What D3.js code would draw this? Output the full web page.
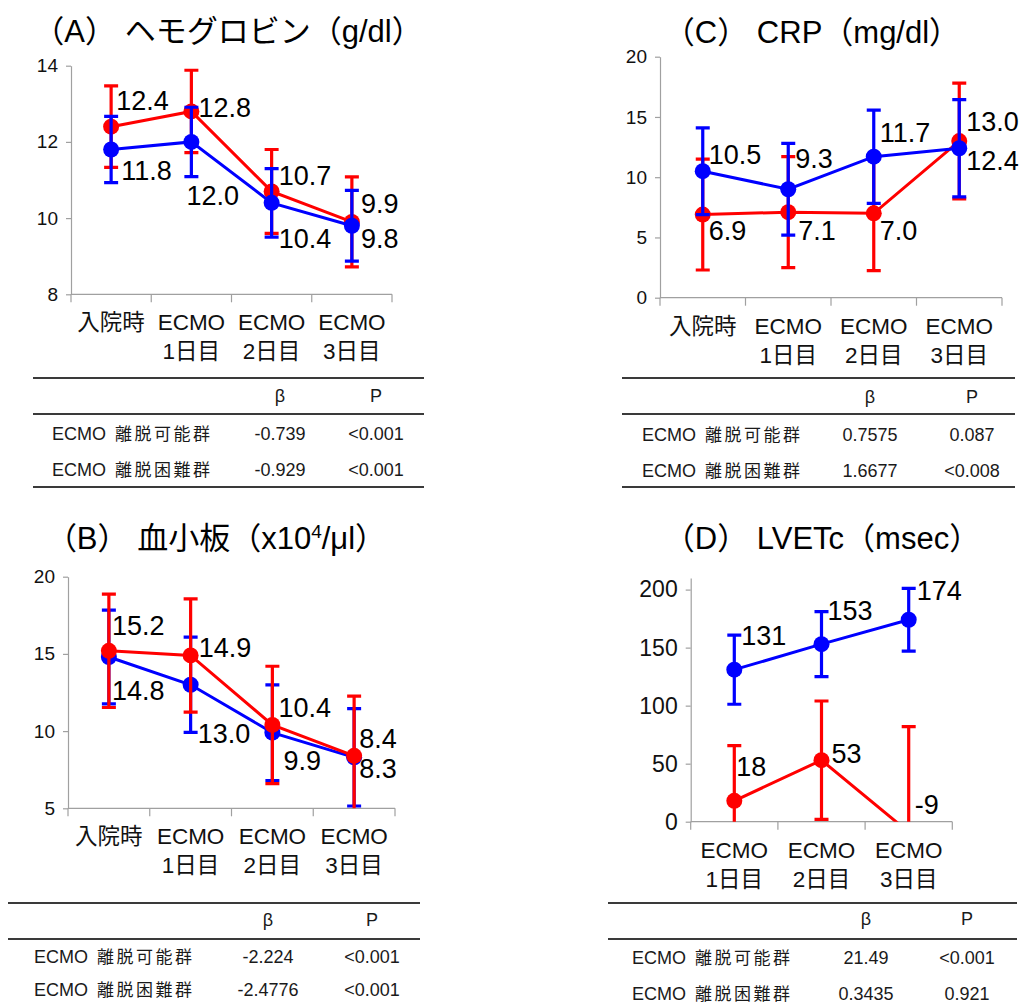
<!DOCTYPE html>
<html>
<head>
<meta charset="utf-8">
<script src="https://cdn.jsdelivr.net/npm/d3@7"></script>
<style>
  body { margin: 0; background: #fff; }
  svg { display: block; }
</style>
</head>
<body>
<svg id="chart" width="1024" height="1008"></svg>
<script>
// ---- data ----
var catsABC = [["入院時"], ["ECMO", "1日目"], ["ECMO", "2日目"], ["ECMO", "3日目"]];
var catsD = [["ECMO", "1日目"], ["ECMO", "2日目"], ["ECMO", "3日目"]];

// (A) hemoglobin
var hbRed = [12.4, 12.8, 10.7, 9.9];
var hbRedErr = [1.07, 1.08, 1.1, 1.18];
var hbBlue = [11.8, 12.0, 10.4, 9.8];
var hbBlueErr = [0.87, 0.91, 0.9, 0.93];
var hbTicks = [8, 10, 12, 14];

// (B) platelets
var pltRed = [15.2, 14.9, 10.4, 8.4];
var pltRedErr = [3.67, 3.67, 3.8, 3.87];
var pltBlue = [14.8, 13.0, 9.9, 8.3];
var pltBlueErr = [3.04, 3.08, 3.1, 3.15];
var pltTicks = [5, 10, 15, 20];

// (C) CRP
var crpRed = [6.9, 7.1, 7.0, 13.0];
var crpRedErr = [4.6, 4.6, 4.76, 4.8];
var crpBlue = [10.5, 9.0, 11.7, 12.4];
var crpBlueErr = [3.6, 3.8, 3.87, 4.03];
var crpBlueLabels = ["10.5", "9.3", "11.7", "12.4"];
var crpTicks = [0, 5, 10, 15, 20];

// (D) LVETc
var lvRed = [18, 53, -9];
var lvRedErr = [47.6, 51, 91];
var lvBlue = [131, 153, 174];
var lvBlueErr = [29.8, 28, 27];
var lvTicks = [0, 50, 100, 150, 200];

// regression tables
var tableGroups = ["離脱可能群", "離脱困難群"];
var betaA = ["-0.739", "-0.929"], pA = ["<0.001", "<0.001"];
var betaB = ["-2.224", "-2.4776"], pB = ["<0.001", "<0.001"];
var betaC = ["0.7575", "1.6677"], pC = ["0.087", "<0.008"];
var betaD = ["21.49", "0.3435"], pD = ["<0.001", "0.921"];

// ---- drawing ----
var RED = "#ff0000", BLUE = "#0000ff";
var LATIN = "'Liberation Sans', Arial, 'Noto Sans CJK JP', sans-serif";

var svg = d3.select("#chart");

// plain hyphen minus like the original, not U+2212
function fmt1(v) { return v.toFixed(1); }
function fmt0(v) { return String(v); }

function drawPanel(p) {
  var g = svg.append("g").attr("class", "panel-" + p.id);

  var x = d3.scaleBand().domain(d3.range(p.cats.length)).range(p.xr).padding(0);
  var y = d3.scaleLinear().domain(p.domain).range(p.yr);

  // title
  var t = g.append("text")
    .attr("x", p.titleX).attr("y", p.titleY)
    .attr("text-anchor", "middle")
    .style("font-family", LATIN).style("font-size", "31px").style("fill", "#000");
  p.title.forEach(function(part) {
    var ts = t.append("tspan").text(part.text);
    if (part.sup) ts.attr("dy", -11).style("font-size", "19px");
    if (part.after) ts.attr("dy", 11);
  });

  // y axis
  var yAxis = d3.axisLeft(y).tickValues(p.ticks).tickFormat(fmt0)
    .tickSize(5).tickSizeOuter(0).tickPadding(8);
  var ya = g.append("g").attr("transform", "translate(" + p.xr[0] + ",0)").call(yAxis);
  ya.select(".domain").attr("stroke", "#a0a0a0").attr("stroke-width", 1.2);
  ya.selectAll(".tick line").attr("stroke", "#a0a0a0").attr("stroke-width", 1.2);
  ya.selectAll(".tick text").style("font-family", LATIN).style("font-size", p.tickFont + "px").style("fill", "#111");

  // x axis: baseline + boundary ticks
  var y0 = p.yr[0];
  var xa = g.append("g");
  xa.append("line").attr("x1", p.xr[0]).attr("x2", p.xr[1]).attr("y1", y0).attr("y2", y0)
    .attr("stroke", "#a0a0a0").attr("stroke-width", 1.2);
  var bounds = x.domain().map(function(d) { return x(d); }).concat([p.xr[1]]);
  xa.selectAll("line.tk").data(bounds).enter().append("line").attr("class", "tk")
    .attr("x1", function(d) { return d; }).attr("x2", function(d) { return d; })
    .attr("y1", y0).attr("y2", y0 + 8)
    .attr("stroke", "#a0a0a0").attr("stroke-width", 1.2);
  var cl = xa.selectAll("text.cat").data(p.cats).enter().append("text").attr("class", "cat")
    .attr("text-anchor", "middle")
    .style("font-family", LATIN).style("font-size", "22.5px").style("fill", "#111");
  cl.each(function(lines, i) {
    var el = d3.select(this);
    lines.forEach(function(s, k) {
      el.append("tspan").attr("x", x(i) + x.bandwidth() / 2).attr("y", y0 + 36 + k * 29).text(s);
    });
  });

  // clip to plot area
  var clipId = "clip-" + p.id;
  g.append("clipPath").attr("id", clipId).append("rect")
    .attr("x", p.xr[0]).attr("y", p.yr[1] - 30)
    .attr("width", p.xr[1] - p.xr[0]).attr("height", p.yr[0] - p.yr[1] + 30);
  var plot = g.append("g").attr("clip-path", "url(#" + clipId + ")");
  var labels = g.append("g");

  var cx = function(i) { return x(i) + x.bandwidth() / 2; };
  var line = d3.line().x(function(d, i) { return cx(i); }).y(function(d) { return y(d); });

  p.series.forEach(function(s) {
    var sg = plot.append("g");
    sg.append("path").datum(s.values).attr("d", line)
      .attr("fill", "none").attr("stroke", s.color).attr("stroke-width", 3);

    var eb = sg.selectAll("g.err").data(s.values).enter().append("g").attr("class", "err");
    eb.append("line")
      .attr("x1", function(d, i) { return cx(i); }).attr("x2", function(d, i) { return cx(i); })
      .attr("y1", function(d, i) { return y(d + s.errs[i]); })
      .attr("y2", function(d, i) { return y(d - s.errs[i]); })
      .attr("stroke", s.color).attr("stroke-width", 3.2);
    [1, -1].forEach(function(sign) {
      eb.append("line")
        .attr("x1", function(d, i) { return cx(i) - 7; }).attr("x2", function(d, i) { return cx(i) + 7; })
        .attr("y1", function(d, i) { return y(d + sign * s.errs[i]); })
        .attr("y2", function(d, i) { return y(d + sign * s.errs[i]); })
        .attr("stroke", s.color).attr("stroke-width", 3.2);
    });

    sg.selectAll("circle").data(s.values).enter().append("circle")
      .attr("cx", function(d, i) { return cx(i); })
      .attr("cy", function(d) { return y(d); })
      .attr("r", 8).attr("fill", s.color);
  });

  p.series.forEach(function(s) {
    labels.selectAll(null).data(s.values).enter().append("text")
      .attr("x", function(d, i) { return cx(i) + s.offs[i][0]; })
      .attr("y", function(d, i) { return y(d) + s.offs[i][1]; })
      .style("font-family", LATIN).style("font-size", "27px").style("fill", "#000")
      .text(function(d, i) { return s.labels ? s.labels[i] : s.fmt(d); });
  });
}

function drawTable(tb) {
  var g = svg.append("g");
  tb.lines.forEach(function(ly) {
    g.append("line").attr("x1", tb.x0).attr("x2", tb.x1).attr("y1", ly).attr("y2", ly)
      .attr("stroke", "#3a3a3a").attr("stroke-width", 2);
  });
  var font = function(sel) {
    return sel.style("font-family", LATIN).style("font-size", "18px").style("fill", "#1a1a1a");
  };
  font(g.append("text").attr("x", tb.colB).attr("y", tb.headY).attr("text-anchor", "middle").text("β"));
  font(g.append("text").attr("x", tb.colP).attr("y", tb.headY).attr("text-anchor", "middle").text("P"));
  tableGroups.forEach(function(name, i) {
    var t = font(g.append("text").attr("x", tb.labelX).attr("y", tb.rowY[i]));
    t.append("tspan").text("ECMO");
    t.append("tspan").attr("dx", 9).style("font-family", "'Noto Sans CJK JP', sans-serif")
      .style("font-size", "17px").style("letter-spacing", "2.5px").text(name);
    font(g.append("text").attr("x", tb.colB).attr("y", tb.rowY[i]).attr("text-anchor", "middle").text(tb.beta[i]));
    font(g.append("text").attr("x", tb.colP).attr("y", tb.rowY[i]).attr("text-anchor", "middle").text(tb.p[i]));
  });
}

var panels = [
  {
    id: "A", cats: catsABC, xr: [71, 392], yr: [294.3, 65.7], domain: [8, 14], ticks: hbTicks, tickFont: 19,
    titleX: 228, titleY: 42,
    title: [{ text: "（A） ヘモグロビン（g/dl）" }],
    series: [
      { color: RED, values: hbRed, errs: hbRedErr, fmt: fmt1, offs: [[5, -17], [7, 6], [7, -6], [9, -9]] },
      { color: BLUE, values: hbBlue, errs: hbBlueErr, fmt: fmt1, offs: [[10, 30], [-5, 63], [7, 45], [9, 22]] }
    ]
  },
  {
    id: "B", cats: catsABC, xr: [68, 395], yr: [808.3, 576.7], domain: [5, 20], ticks: pltTicks, tickFont: 19,
    titleX: 216, titleY: 549,
    title: [{ text: "（B） 血小板（x10" }, { text: "4", sup: true }, { text: "/μl）", after: true }],
    series: [
      { color: BLUE, values: pltBlue, errs: pltBlueErr, fmt: fmt1, offs: [[3, 43], [7, 58], [11, 37], [5, 21]] },
      { color: RED, values: pltRed, errs: pltRedErr, fmt: fmt1, offs: [[3, -16], [8, 2], [6, -8], [5, -8]] }
    ]
  },
  {
    id: "C", cats: catsABC, xr: [660, 1002], yr: [297.7, 56.7], domain: [0, 20], ticks: crpTicks, tickFont: 19,
    titleX: 812, titleY: 43,
    title: [{ text: "（C） CRP（mg/dl）" }],
    series: [
      { color: RED, values: crpRed, errs: crpRedErr, fmt: fmt1, offs: [[6, 25], [10, 28], [6, 27], [7, -10]] },
      { color: BLUE, values: crpBlue, errs: crpBlueErr, labels: crpBlueLabels, offs: [[6, -7], [7, -21], [6, -15], [7, 22]] }
    ]
  },
  {
    id: "D", cats: catsD, xr: [690.7, 952.3], yr: [821.7, 578], domain: [0, 210], ticks: lvTicks, tickFont: 23,
    titleX: 822, titleY: 549,
    title: [{ text: "（D） LVETc（msec）" }],
    series: [
      { color: RED, values: lvRed, errs: lvRedErr, fmt: fmt0, offs: [[2, -25], [10, 3], [6, -18]] },
      { color: BLUE, values: lvBlue, errs: lvBlueErr, fmt: fmt0, offs: [[7, -25], [6, -24], [8, -20]] }
    ]
  }
];

panels.forEach(drawPanel);

var tables = [
  { x0: 33, x1: 424, lines: [378, 414, 487], headY: 402, rowY: [440, 476], labelX: 52, colB: 280, colP: 376, beta: betaA, p: pA },
  { x0: 8, x1: 420, lines: [903, 939, 1010], headY: 926, rowY: [963, 996], labelX: 34, colB: 268, colP: 372, beta: betaB, p: pB },
  { x0: 622, x1: 1015, lines: [378, 414, 487], headY: 403, rowY: [441, 477], labelX: 642, colB: 870, colP: 972, beta: betaC, p: pC },
  { x0: 608, x1: 1017, lines: [903, 939, 1010], headY: 925, rowY: [964, 1000], labelX: 632, colB: 866, colP: 967, beta: betaD, p: pD }
];
tables.forEach(drawTable);
</script>
</body>
</html>
